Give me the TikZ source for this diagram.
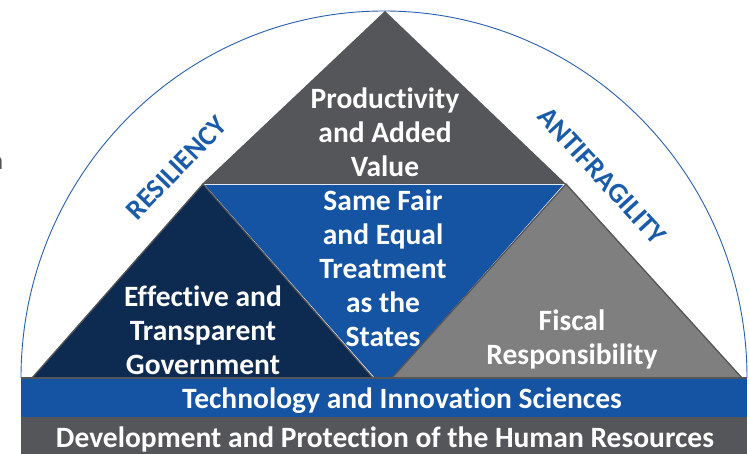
\documentclass[tikz,border=0pt]{standalone}
\usepackage{fontspec}
\setmainfont{Carlito}[Ligatures=NoCommon]
\definecolor{topgray}{RGB}{85,86,90}
\definecolor{navy}{RGB}{13,42,80}
\definecolor{midblue}{RGB}{21,83,163}
\definecolor{lightgray}{RGB}{127,127,127}
\definecolor{edgegray}{RGB}{85,85,88}
\definecolor{labelblue}{RGB}{26,91,170}
\definecolor{arcblue}{RGB}{40,94,174}
\begin{document}
\begin{tikzpicture}[x=1pt,y=1pt,
  tri/.style={draw=edgegray,line width=1.3pt,line join=miter},
  wtext/.style={text=white,font=\fontsize{29.5}{34}\selectfont\bfseries,align=center,inner sep=0pt},
  sidelabel/.style={text=labelblue,font=\fontsize{28}{30}\selectfont\bfseries,inner sep=0pt}]
\useasboundingbox (0,0) rectangle (749,454);
% arc
\draw[arcblue,line width=0.9pt] (21,76) arc[start angle=180,end angle=0,x radius=363,y radius=367];
% bands
\fill[midblue] (21,37) rectangle (747,76);
\fill[topgray] (21,0) rectangle (747,37);
% top triangle
\fill[topgray] (385,443) -- (202,270) -- (566,270) -- cycle;
% inverted blue
\fill[midblue] (205,269) -- (563,269) -- (392,76) -- (375,76) -- cycle;
% navy and gray triangles
\filldraw[tri,fill=navy] (203,270) -- (32,76) -- (373,76) -- cycle;
\filldraw[tri,fill=lightgray] (566,270) -- (392,76) -- (742,76) -- cycle;
\draw[edgegray,line width=1.3pt] (21,76) -- (747,76);
% texts
\node[wtext] (prod) at (385,322) {Productivity\\and Added\\Value};
\node[wtext] (fair) at (383,186) {Same Fair\\and Equal\\Treatment\\as the\\States};
\node[wtext] (gov) at (203,124) {Effective and\\Transparent\\Government};
\node[wtext] (fisc) at (572,115) {Fiscal\\Responsibility};
\node[wtext] (tech) at (402,53) {Technology and Innovation Sciences};
\node[wtext] (dev) at (385,15) {Development and Protection of the Human Resources};
\node[sidelabel,rotate=46] (res) at (176.5,286) {RESILIENCY};
\node[sidelabel,rotate=-47.5] (anti) at (602,278) {ANTIFRAGILITY};
\node[text=edgegray,font=\fontsize{26}{30}\selectfont,anchor=east,inner sep=0pt] (cut) at (3.5,291) {n};
\end{tikzpicture}
\end{document}
